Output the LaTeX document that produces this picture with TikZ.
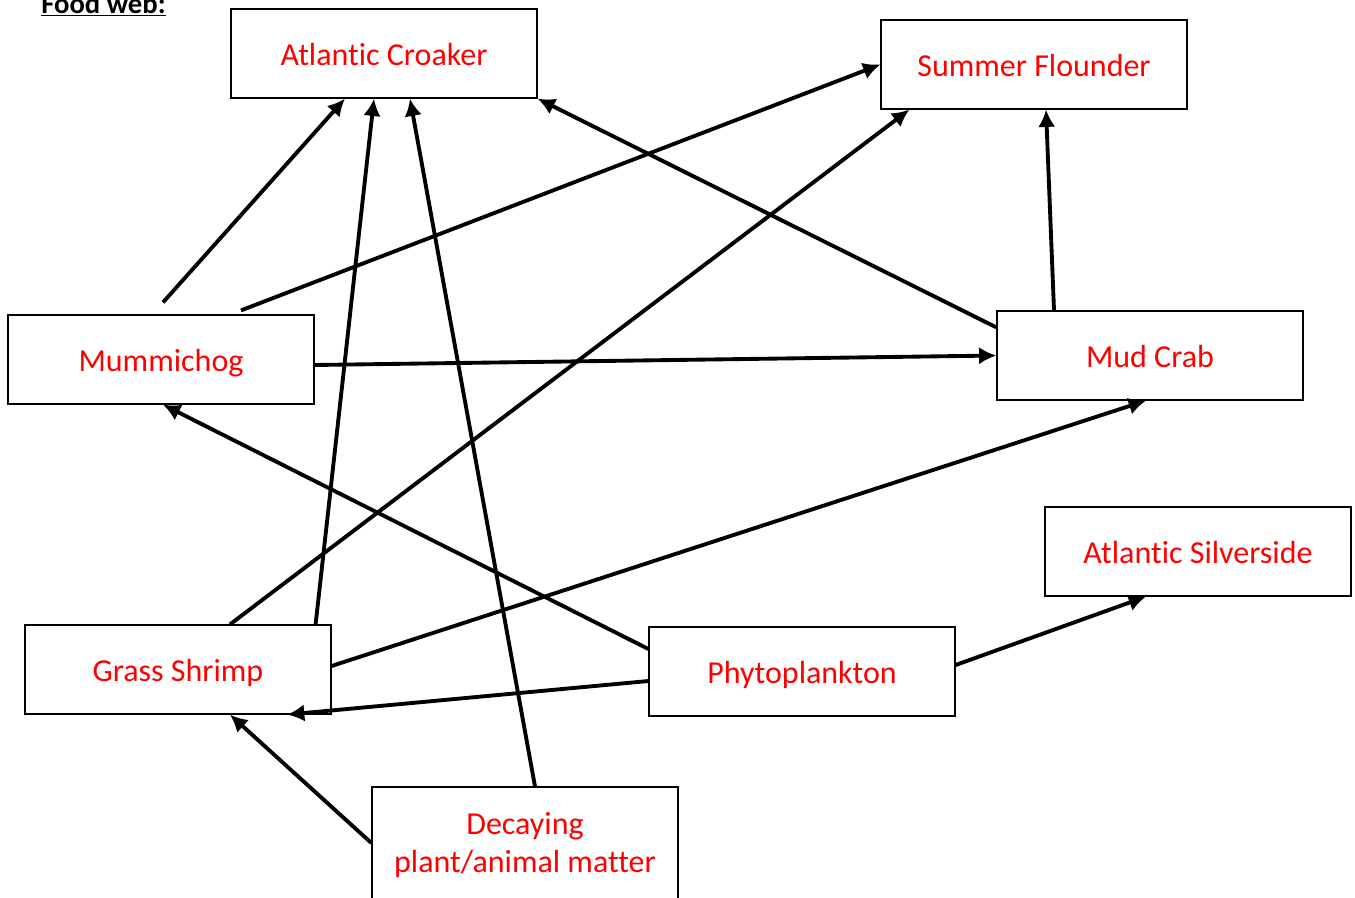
\documentclass[tikz,border=0pt]{standalone}
\usepackage{fontspec}
\setmainfont[Ligatures=NoCommon]{Carlito}
\usepackage{tikz}
\usetikzlibrary{shapes,arrows,arrows.meta}
\usetikzlibrary{positioning}
\usetikzlibrary{calc}
\tikzstyle{line} = [draw, -{Latex[length=13pt,width=13pt]}, line width=2.9pt]
\begin{document}
\begin{tikzpicture}[x=0.75pt, y=0.75pt,
	organism/.style={draw, rectangle, line width=0.9pt, fill=white,
		minimum width=229.5pt, minimum height=66.75pt, inner sep=0pt,
		text=red, font=\fontsize{24}{29}\selectfont, align=center},
	species/.style={organism, text height=18.5pt, text depth=0pt}]
	\useasboundingbox (0,0) rectangle (1355,-897);
	\node [anchor=base west, inner sep=0pt, font=\fontsize{21.5}{26}\selectfont\bfseries] at (41,-13) (title) {\underline{Food web:}};
	% Organisms
	\node [species] at (384,-53.5) (croaker) {Atlantic Croaker};
	\node [species] at (1034,-64.5) (flounder) {Summer Flounder};
	\node [species] at (161,-359.5) (mummi) {Mummichog};
	\node [species] at (1150,-355.5) (mudcrab) {Mud Crab};
	\node [species] at (1198,-551.5) (silverside) {Atlantic Silverside};
	\node [species] at (178,-669.5) (shrimp) {Grass Shrimp};
	\node [species] at (802,-671.5) (phyto) {Phytoplankton};
	\node [organism, minimum height=87pt] at (525,-845) (decay) {Decaying\\plant/animal matter};
	%% Flows
	% Into Atlantic Croaker
	\path [line] ($(mummi.north)+(2,12)$) to ($(croaker.south)+(-39,0)$);
	\path [line] ($(shrimp.north east)+(-16,0)$) to ($(croaker.south)+(-10,0)$);
	\path [line] ($(decay.north)+(10,0)$) to ($(croaker.south)+(26,0)$);
	\path [line] ($(mudcrab.north west)+(0,-17)$) to (croaker.south east);
	% Into Summer Flounder
	\path [line] ($(mummi.north)+(80,4)$) to (flounder.west);
	\path [line] ($(shrimp.north)+(52,0)$) to ($(flounder.south west)+(29,0)$);
	\path [line] ($(mudcrab.north)+(-96,0)$) to ($(flounder.south)+(12,0)$);
	% Into Mud Crab
	\path [line] ($(mummi.east)+(0,-5.5)$) to (mudcrab.west);
	\path [line] ($(shrimp.east)+(0,3.5)$) to ($(mudcrab.south)+(-4,0)$);
	% From Phytoplankton
	\path [line] ($(phyto.west)+(0,22.5)$) to ($(mummi.south)+(2,0)$);
	\path [line] ($(phyto.west)+(0,-9.5)$) to ($(shrimp.south)+(109,0)$);
	\path [line] ($(phyto.east)+(0,6.5)$) to ($(silverside.south)+(-52,0)$);
	% From decaying matter
	\path [line] ($(decay.west)+(0,2)$) to ($(shrimp.south)+(52,0)$);
\end{tikzpicture}
\end{document}
